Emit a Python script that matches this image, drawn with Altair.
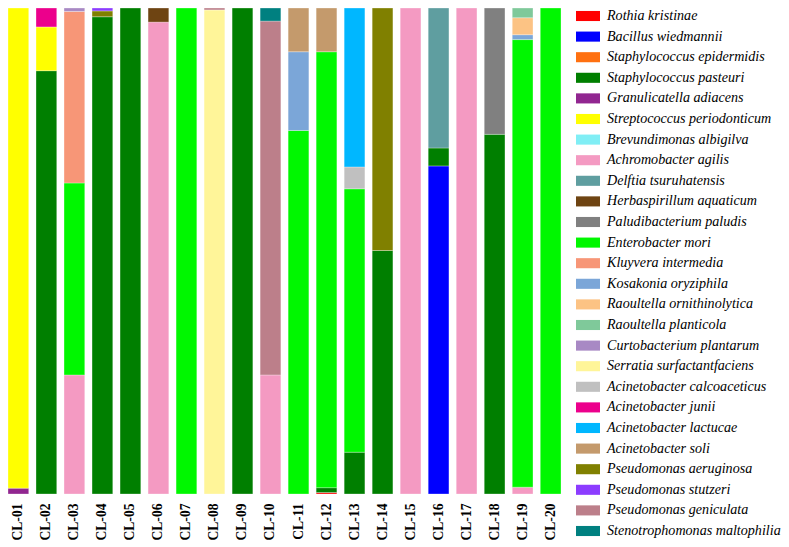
import altair as alt
import pandas as pd

species = [
    "Rothia kristinae", "Bacillus wiedmannii", "Staphylococcus epidermidis",
    "Staphylococcus pasteuri", "Granulicatella adiacens", "Streptococcus periodonticum",
    "Brevundimonas albigilva", "Achromobacter agilis", "Delftia tsuruhatensis",
    "Herbaspirillum aquaticum", "Paludibacterium paludis", "Enterobacter mori",
    "Kluyvera intermedia", "Kosakonia oryziphila", "Raoultella ornithinolytica",
    "Raoultella planticola", "Curtobacterium plantarum", "Serratia surfactantfaciens",
    "Acinetobacter calcoaceticus", "Acinetobacter junii", "Acinetobacter lactucae",
    "Acinetobacter soli", "Pseudomonas aeruginosa", "Pseudomonas stutzeri",
    "Pseudomonas geniculata", "Stenotrophomonas maltophilia",
]
colors = [
    "#FF0000", "#0000FF", "#FF7010", "#007F00", "#912690", "#FFFF00",
    "#80EEF5", "#F49AC2", "#5F9EA0", "#6E4412", "#808080", "#00F700",
    "#F79677", "#7BA6D8", "#FCC384", "#7FC99A", "#A889C4", "#FFF599",
    "#C0C0C0", "#EC008C", "#00B7FF", "#C49A6C", "#808000", "#8C3CFF",
    "#BC7F8A", "#008080",
]
samples = [f"CL-{i:02d}" for i in range(1, 21)]

# segments, listed bottom to top within each sample
seg_sample = [
    "CL-01", "CL-01",
    "CL-02", "CL-02", "CL-02",
    "CL-03", "CL-03", "CL-03", "CL-03",
    "CL-04", "CL-04", "CL-04",
    "CL-05",
    "CL-06", "CL-06",
    "CL-07",
    "CL-08", "CL-08",
    "CL-09",
    "CL-10", "CL-10", "CL-10",
    "CL-11", "CL-11", "CL-11",
    "CL-12", "CL-12", "CL-12", "CL-12",
    "CL-13", "CL-13", "CL-13", "CL-13",
    "CL-14", "CL-14",
    "CL-15",
    "CL-16", "CL-16", "CL-16",
    "CL-17",
    "CL-18", "CL-18",
    "CL-19", "CL-19", "CL-19", "CL-19", "CL-19",
    "CL-20",
]
seg_species = [
    "Granulicatella adiacens", "Streptococcus periodonticum",
    "Staphylococcus pasteuri", "Streptococcus periodonticum", "Acinetobacter junii",
    "Achromobacter agilis", "Enterobacter mori", "Kluyvera intermedia", "Curtobacterium plantarum",
    "Staphylococcus pasteuri", "Pseudomonas aeruginosa", "Pseudomonas stutzeri",
    "Staphylococcus pasteuri",
    "Achromobacter agilis", "Herbaspirillum aquaticum",
    "Enterobacter mori",
    "Serratia surfactantfaciens", "Pseudomonas geniculata",
    "Staphylococcus pasteuri",
    "Achromobacter agilis", "Pseudomonas geniculata", "Stenotrophomonas maltophilia",
    "Enterobacter mori", "Kosakonia oryziphila", "Acinetobacter soli",
    "Rothia kristinae", "Staphylococcus pasteuri", "Enterobacter mori", "Acinetobacter soli",
    "Staphylococcus pasteuri", "Enterobacter mori", "Acinetobacter calcoaceticus", "Acinetobacter lactucae",
    "Staphylococcus pasteuri", "Pseudomonas aeruginosa",
    "Achromobacter agilis",
    "Bacillus wiedmannii", "Staphylococcus pasteuri", "Delftia tsuruhatensis",
    "Achromobacter agilis",
    "Staphylococcus pasteuri", "Paludibacterium paludis",
    "Achromobacter agilis", "Enterobacter mori", "Kosakonia oryziphila",
    "Raoultella ornithinolytica", "Raoultella planticola",
    "Enterobacter mori",
]
seg_value = [
    1.2, 98.8,
    87.1, 9.0, 3.9,
    24.5, 39.5, 35.3, 0.7,
    98.2, 1.2, 0.6,
    100.0,
    97.1, 2.9,
    100.0,
    99.6, 0.4,
    100.0,
    24.5, 72.8, 2.7,
    74.8, 16.2, 9.0,
    0.3, 1.0, 89.7, 9.0,
    8.6, 54.2, 4.5, 32.7,
    50.1, 49.9,
    100.0,
    67.5, 3.7, 28.8,
    100.0,
    74.0, 26.0,
    1.4, 92.1, 1.0, 3.5, 2.0,
    100.0,
]

df = pd.DataFrame({"sample": seg_sample, "species": seg_species, "value": seg_value})
df["order"] = range(len(df))

legend = alt.Legend(
    title=None,
    orient="none",
    legendX=568,
    legendY=-4,
    padding=0,
    symbolType="M-1,-0.42H1V0.42H-1Z",
    symbolSize=576,
    symbolStrokeWidth=0,
    labelFont="Liberation Serif",
    labelFontStyle="italic",
    labelFontSize=14.1,
    labelColor="black",
    labelLimit=400,
    labelOffset=7,
    rowPadding=0.6,
    symbolOpacity=1,
)

chart = alt.Chart(df).mark_bar(stroke="white", strokeWidth=0.6, strokeOpacity=0.5).encode(
    x=alt.X(
        "sample:N",
        sort=samples,
        scale=alt.Scale(paddingInner=0.26, paddingOuter=0.0),
        axis=alt.Axis(
            title=None, labelAngle=-90, labelFont="Liberation Serif", labelFontWeight="bold",
            labelFontSize=13.6, labelColor="black", domain=False, ticks=False, labelPadding=9,
        ),
    ),
    y=alt.Y(
        "value:Q",
        stack="zero",
        scale=alt.Scale(domain=[0, 100], nice=False),
        axis=None,
    ),
    color=alt.Color(
        "species:N",
        scale=alt.Scale(domain=species, range=colors),
        legend=legend,
    ),
    order=alt.Order("order:Q", sort="ascending"),
).properties(
    width=553,
    height=486,
    autosize=alt.AutoSizeParams(type="none"),
    padding={"left": 0, "top": 0, "right": 220, "bottom": 50},
).configure_view(stroke=None)

chart.save("out.html", embed_options={"renderer": "svg", "actions": False})
